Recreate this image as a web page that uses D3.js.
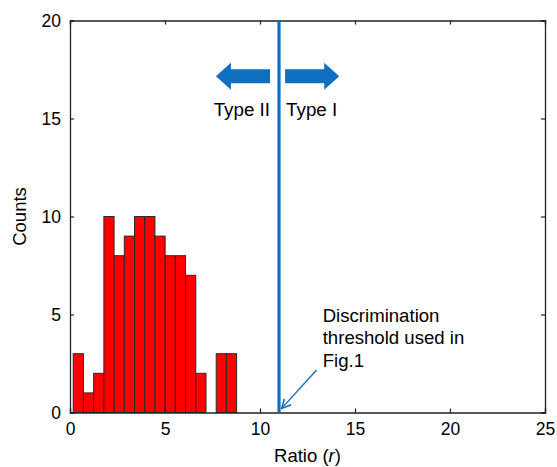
<!DOCTYPE html>
<html><head><meta charset="utf-8">
<script src="https://cdn.jsdelivr.net/npm/d3@7"></script>
<style>body{margin:0;background:#fff}text{font-family:"Liberation Sans",Arial,sans-serif;fill:#000}</style>
</head><body><svg id="c" width="557" height="467"></svg>
<script>
const binStart = 0.17, binWidth = 0.5375;
const counts = [3,1,2,10,8,9,10,10,9,8,8,7,2,0,3,3];
const xTicks = [0,5,10,15,20,25];
const yTicks = [0,5,10,15,20];
const threshold = 11;
const annotationLines = ["Discrimination","threshold used in","Fig.1"];

const svg = d3.select("#c");
const m = {l:70, r:545, t:20.5, b:412.5};
const x = d3.scaleLinear().domain([0,25]).range([m.l,m.r]);
const y = d3.scaleLinear().domain([0,20]).range([m.b,m.t]);
const blue = "#0F6FC0";

// bars
svg.append("g").selectAll("rect").data(counts).join("rect")
  .attr("x", (d,i)=>x(binStart+i*binWidth))
  .attr("width", x(binWidth)-x(0))
  .attr("y", d=>y(d))
  .attr("height", d=>y(0)-y(d))
  .attr("fill","#FF0000").attr("stroke","#2a2a2a").attr("stroke-width",1)
  .attr("display", d=>d>0?null:"none");

// axes box
const fmt = d3.format("d");
const axB = svg.append("g").attr("transform",`translate(0,${m.b})`).call(d3.axisBottom(x).tickValues(xTicks).tickSize(-4).tickPadding(10).tickFormat(fmt));
const axT = svg.append("g").attr("transform",`translate(0,${m.t})`).call(d3.axisTop(x).tickValues(xTicks).tickSize(-4).tickFormat(""));
const axL = svg.append("g").attr("transform",`translate(${m.l},0)`).call(d3.axisLeft(y).tickValues(yTicks).tickSize(-4).tickPadding(9).tickFormat(fmt));
const axR = svg.append("g").attr("transform",`translate(${m.r},0)`).call(d3.axisRight(y).tickValues(yTicks).tickSize(-4).tickFormat(""));
[axB,axT,axL,axR].forEach(a=>{
  a.select(".domain").attr("stroke","#222").attr("stroke-width",1.3);
  a.selectAll(".tick line").attr("stroke","#222").attr("stroke-width",1.2);
  a.selectAll("text").style("font-size","17.5px").attr("fill","#000").style("font-family","Liberation Sans, Arial, sans-serif");
});
axT.selectAll(".tick line").attr("y2",4);
axR.selectAll(".tick line").attr("x2",-4);

// threshold line
svg.append("line").attr("x1",x(threshold)).attr("x2",x(threshold))
  .attr("y1",y(20)).attr("y2",y(0)).attr("stroke",blue).attr("stroke-width",3.2);

// block arrows
function blockArrow(xTail, xTip, yc){
  const dir = Math.sign(xTip-xTail);
  const bodyH = 14/19.6, headH = 27/19.6, headL = 15/19;
  const xb = xTip - dir*headL;
  const pts = [[xTail,yc+bodyH/2],[xb,yc+bodyH/2],[xb,yc+headH/2],[xTip,yc],[xb,yc-headH/2],[xb,yc-bodyH/2],[xTail,yc-bodyH/2]];
  svg.append("polygon").attr("points", pts.map(p=>[x(p[0]),y(p[1])].join(",")).join(" ")).attr("fill",blue);
}
blockArrow(10.53, 7.68, 17.15);
blockArrow(11.32, 14.17, 17.15);

svg.append("text").attr("x",x(10.53)).attr("y",y(15.13)).attr("text-anchor","end").style("font-size","18.8px").text("Type II");
svg.append("text").attr("x",x(11.32)+1).attr("y",y(15.13)).attr("text-anchor","start").style("font-size","18.8px").text("Type I");

// annotation
const ann = svg.append("text").attr("x",x(13.3)).attr("y",y(4.63)).style("font-size","18.6px");
annotationLines.forEach((t,i)=>ann.append("tspan").attr("x",x(13.3)).attr("dy", i?22.5:0).text(t));
svg.append("defs").append("marker").attr("id","ah").attr("viewBox","0 0 10 10").attr("refX",9).attr("refY",5)
  .attr("markerWidth",10).attr("markerHeight",10).attr("markerUnits","userSpaceOnUse").attr("orient","auto")
  .append("path").attr("d","M0,0.5 L9,5 L0,9.5").attr("fill","none").attr("stroke",blue).attr("stroke-width",1.6);
svg.append("line").attr("x1",x(12.98)).attr("y1",y(2.17)).attr("x2",x(11.14)).attr("y2",y(0.21))
  .attr("stroke",blue).attr("stroke-width",1.4).attr("marker-end","url(#ah)");

// axis labels
const xl = svg.append("text").attr("x",(m.l+m.r)/2).attr("y",462).attr("text-anchor","middle").style("font-size","18.5px");
xl.append("tspan").text("Ratio (");
xl.append("tspan").style("font-style","italic").text("r");
xl.append("tspan").text(")");
svg.append("text").attr("transform",`translate(26,${(m.t+m.b)/2}) rotate(-90)`).attr("text-anchor","middle").style("font-size","18.5px").text("Counts");
</script></body></html>
